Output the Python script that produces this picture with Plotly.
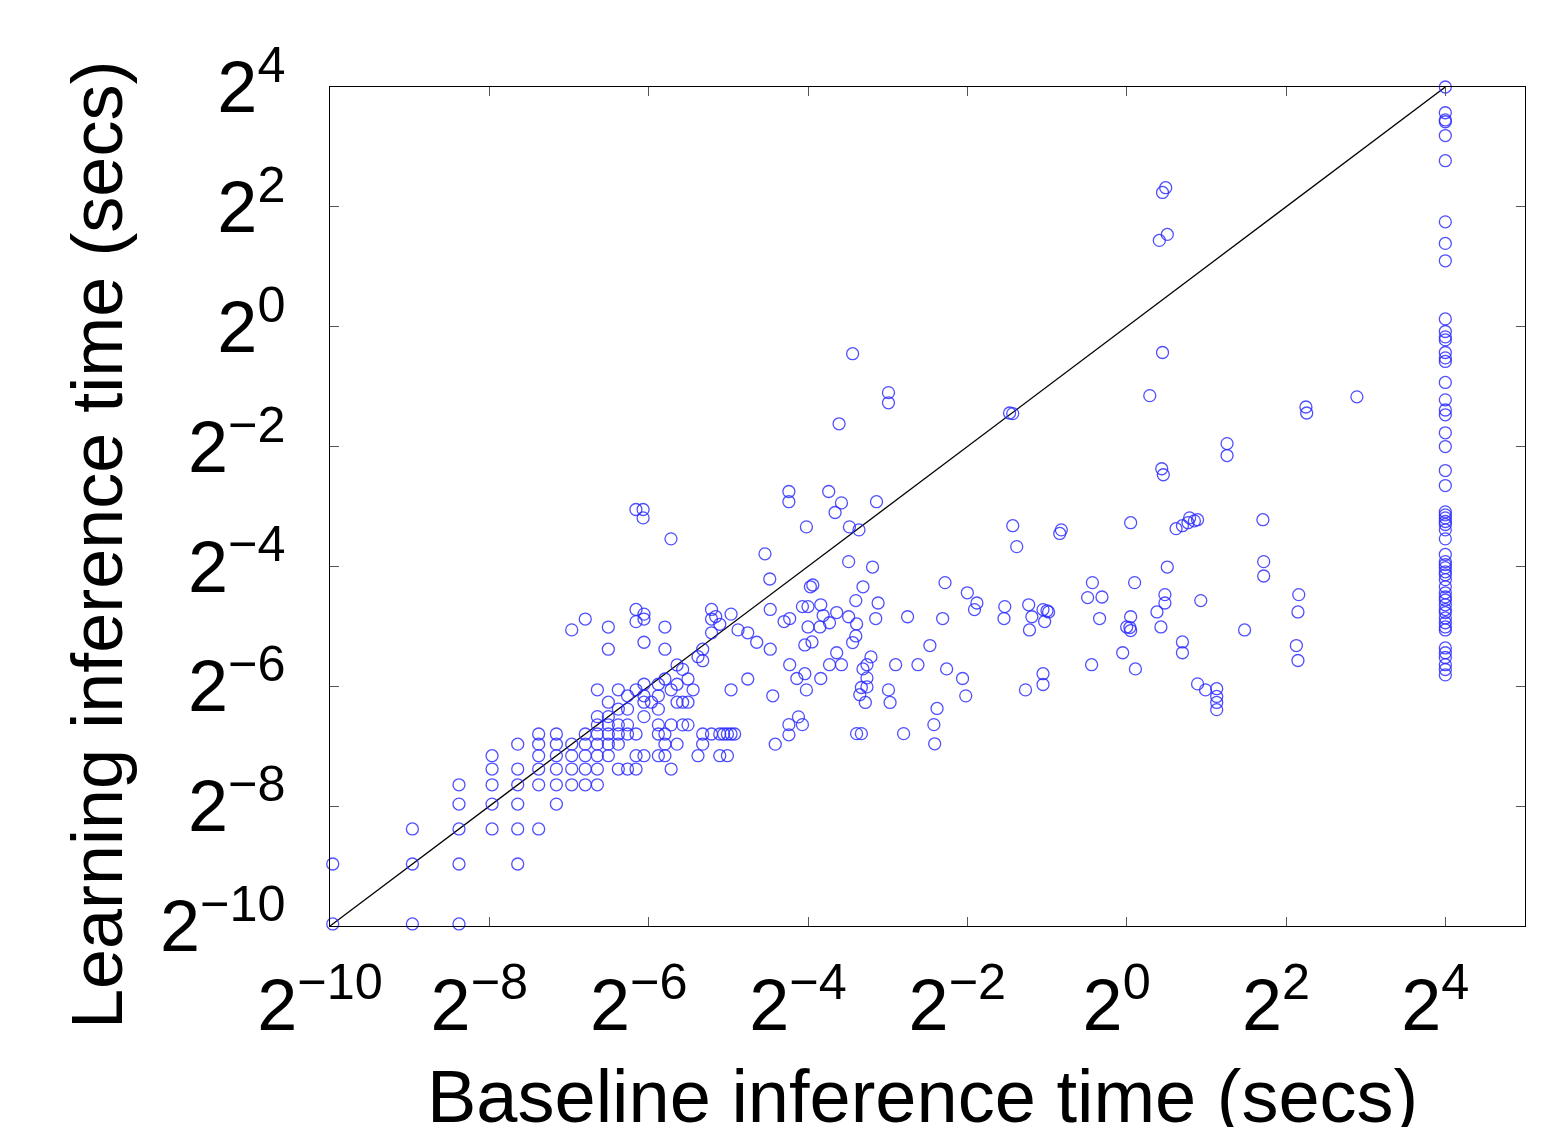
import numpy as np
import plotly.graph_objects as go

# axis ticks (powers of two, seconds)
tick_exps = [-10, -8, -6, -4, -2, 0, 2, 4]
tick_labels = ["2<sup>\u2212%d</sup>" % -k if k < 0 else "2<sup>%d</sup>" % k for k in tick_exps]

# quick instances, times in milliseconds (1 ms resolution)
quick_base_ms = [
    1, 1,
    2, 2, 2,
    3, 3, 3, 3, 3,
    4, 4, 4, 4, 4,
    5, 5, 5, 5, 5, 5,
    6, 6, 6, 6, 6, 6,
    7, 7, 7, 7, 7, 7,
    8, 8, 8, 8, 8,
    9, 9, 9, 9, 9, 9,
    10, 10, 10, 10, 10, 10, 10, 10,
    11, 11, 11, 11, 11, 11, 11, 11,
    12, 12, 12, 12, 12, 12,
    13, 13, 13, 13, 13,
    14, 14, 14, 14, 14, 14,
    15, 15, 15, 15, 15, 15, 15, 15,
    16,
    17, 17, 17, 17, 17, 17,
    18, 18, 18, 18, 18, 18,
    19, 19, 19,
    20, 20, 20, 20,
    21, 21, 21,
    22, 22, 22,
    23,
    24, 24,
    25, 25, 25, 25,
    27, 27, 27, 27,
    28,
    29, 29, 29,
    30,
    31, 31,
    32, 32, 32,
    33,
    34,
    37, 37,
    40,
    45, 45,
    46,
    47,
]
quick_learn_ms = [
    1, 2,
    1, 2, 3,
    1, 2, 3, 4, 5,
    3, 4, 5, 6, 7,
    2, 3, 4, 5, 6, 8,
    3, 5, 6, 7, 8, 9,
    4, 5, 6, 7, 8, 9,
    5, 6, 7, 8, 30,
    5, 6, 7, 8, 9, 34,
    5, 6, 7, 8, 9, 10, 11, 15,
    7, 8, 9, 10, 11, 13, 24, 31,
    6, 8, 9, 10, 12, 15,
    6, 9, 10, 12, 14,
    6, 7, 9, 15, 33, 38,
    7, 11, 13, 14, 16, 26, 34, 36,
    13,
    7, 9, 10, 12, 14, 16,
    7, 8, 9, 17, 24, 31,
    6, 10, 15,
    8, 13, 16, 20,
    10, 13, 19,
    10, 13, 17,
    15,
    7, 22,
    8, 9, 21, 24,
    9, 29, 34, 38,
    35,
    7, 9, 32,
    9,
    7, 9,
    9, 15, 36,
    9,
    30,
    17, 29,
    26,
    24, 38,
    14,
    8,
]

# remaining instances, log2 of seconds
base_log2 = [
    -4.30, -4.23, -4.07, -4.00, -3.84, -3.81, -4.00, -3.85, -3.73, -3.64,
    -3.49, -4.04, -3.95, -3.97, -3.94, -4.23, -4.14, -4.04, -4.02, -3.84,
    -3.73, -3.58, -3.64, -4.24, -4.12, -4.07, -4.24,
    -3.44, -2.99, -2.99, -3.61, -6.16, -6.07, -6.07, -5.72, -4.24, -4.24,
    -3.74, -3.58, -3.66, -3.14, -4.02, -3.48, -3.36, -4.54, -3.49, -3.19,
    -4.48, -3.31,
    -2.28, -2.00, -1.88, -1.91, -1.53, -1.54, -1.23, -1.19, -1.22, -1.05,
    -1.00, -0.98, -1.03, -0.43, -0.49, -0.31, -0.34, 0.10, 0.48, 0.48,
    0.38, 0.43, 0.05, 0.00, 0.04, 0.05, -0.05, 0.11, -0.44, 0.51,
    -3.40, -3.12, -3.15, -3.39, -3.40, -3.44, -2.75, -2.31, -2.47, -3.21,
    -3.26, -3.31, -3.26, -3.26, -3.33, -3.35, -3.28, -2.90, -2.62, -2.26,
    -2.06, -2.02, -2.99, -2.97, -2.38, -2.42, -2.41, -3.39, -3.33, -2.80,
    -1.05, -1.05, -1.27,
    -1.47, -1.43, 0.45, 0.29, 0.44, 0.46, -1.43, -1.38, -0.82, -0.84,
    0.05, 0.62, 0.70, 0.77, 0.79, 0.85, 0.89,
    0.49, 0.45, 0.51, 0.41, 2.89, 2.25, 2.26, 1.26, 1.26, 1.71,
    1.72, 1.72, 0.70, 0.70, 0.93, 1.48, 2.16, 2.15, 2.13, 2.15,
    0.89, 0.99, 1.13, 1.13, 1.13, 1.13,
]
learn_log2 = [
    -4.92, -4.87, -4.67, -4.67, -4.64, -4.82, -5.01, -5.01, -4.94, -4.77,
    -4.84, -5.31, -5.26, -4.34, -4.31, -5.64, -5.87, -5.79, -6.06, -5.87,
    -5.64, -5.64, -5.44, -6.64, -6.51, -6.64, -6.81,
    -0.45, -1.10, -1.27, -1.62, -3.05, -3.05, -3.19, -3.54, -2.75, -2.92,
    -2.75, -2.94, -3.10, -2.92, -3.34, -3.34, -3.39, -3.79, -3.92, -4.01,
    -4.21, -4.34,
    -4.27, -4.44, -4.61, -4.72, -4.67, -4.87, -4.64, -4.84, -5.06, -4.72,
    -4.74, -4.76, -4.92, -4.27, -4.52, -4.51, -4.87, -4.27, -4.47, -4.61,
    -4.76, -5.01, -4.84, -5.01, -5.02, -5.07, -5.44, -5.71, -5.64, -4.01,
    -4.57, -4.61, -4.87, -4.96, -5.16, -5.27, -4.84, -4.87, -5.32, -5.51,
    -5.64, -5.71, -5.86, -6.01, -6.02, -6.14, -6.27, -5.64, -5.64, -5.71,
    -5.87, -6.16, -6.06, -6.27, -6.37, -6.64, -6.96, -6.79, -6.79, -6.79,
    -5.79, -5.97, -6.06,
    -1.44, -1.45, -0.43, -1.15, -2.37, -2.47, -3.32, -3.67, -3.39, -3.45,
    -3.27, -3.37, -3.32, -3.27, -3.19, -3.24, -3.22,
    2.32, 2.24, 1.54, 1.44, -1.17, -1.34, -1.44, -1.95, -2.15, -3.22,
    -3.92, -4.16, -5.26, -5.44, -4.57, -5.06, -4.47, -4.76, -5.32, -5.57,
    -5.96, -6.06, -6.04, -6.17, -6.27, -6.39,
]

# baseline hit the 16 s cap; learner times (log2 seconds)
timeout_s = 16
timeout_learn_log2 = [
    4.00, 3.57, 3.45, 3.42, 3.19, 2.77, 1.75, 1.39, 1.10, 0.13,
    -0.08, -0.17, -0.22, -0.43, -0.52, -0.58, -0.93, -1.22, -1.39, -1.47,
    -1.77, -2.00, -2.40, -2.65, -3.09, -3.14, -3.19, -3.25, -3.30, -3.39,
    -3.54, -3.80, -3.92, -3.97, -4.02, -4.09, -4.14, -4.22, -4.34, -4.44,
    -4.51, -4.56, -4.64, -4.72, -4.77, -4.86, -4.94, -5.01, -5.06, -5.36,
    -5.44, -5.52, -5.64, -5.72, -5.81,
]

x = np.concatenate([np.array(quick_base_ms) / 1000.0,
                    2.0 ** np.array(base_log2),
                    np.full(len(timeout_learn_log2), float(timeout_s))])
y = np.concatenate([np.array(quick_learn_ms) / 1000.0,
                    2.0 ** np.array(learn_log2),
                    2.0 ** np.array(timeout_learn_log2)])

lo = 2.0 ** tick_exps[0]
font = "Liberation Sans, Arial, Helvetica, sans-serif"

fig = go.Figure()
fig.add_trace(go.Scatter(x=[lo, timeout_s], y=[lo, timeout_s], mode="lines",
                         line=dict(color="black", width=1.3), hoverinfo="skip"))
fig.add_trace(go.Scatter(x=x, y=y, mode="markers", cliponaxis=False,
                         marker=dict(symbol="circle-open", size=12,
                                     color="rgba(40,40,255,0.82)",
                                     line=dict(width=1.3))))

axis_common = dict(type="log", tickvals=[2.0 ** k for k in tick_exps],
                   ticks="inside", ticklen=9, tickwidth=1, tickcolor="#555",
                   showline=True, linecolor="black", linewidth=1.3, mirror="ticks",
                   showgrid=False, zeroline=False,
                   tickfont=dict(family=font, size=72, color="black"))

fig.update_layout(
    width=1564, height=1127,
    margin=dict(l=330, r=39, t=87, b=201),
    paper_bgcolor="white", plot_bgcolor="white",
    showlegend=False,
    xaxis=dict(range=[np.log10(lo), np.log10(2.0 ** 5)], ticklabelstandoff=16,
               ticktext=[t + "\u00a0" for t in tick_labels], **axis_common),
    yaxis=dict(range=[np.log10(lo), np.log10(2.0 ** 4)], ticklabelstandoff=29,
               ticktext=tick_labels, **axis_common),
    annotations=[
        dict(text="Baseline inference time (secs)", xref="paper", yref="paper",
             x=0.496, y=-0.203, xanchor="center", yanchor="middle", showarrow=False,
             font=dict(family=font, size=74, color="black")),
        dict(text="Learning inference time (secs)", xref="paper", yref="paper",
             x=-0.195, y=0.454, xanchor="center", yanchor="middle", textangle=-90,
             showarrow=False, font=dict(family=font, size=72, color="black")),
    ],
)

fig.write_html("out.html", config={"displayModeBar": False},
               post_script="document.body.style.margin='0px';")
